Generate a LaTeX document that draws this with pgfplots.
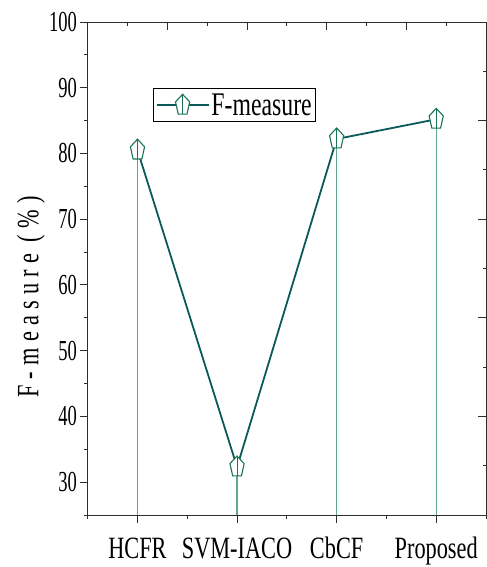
\documentclass[border=0pt]{standalone}
\usepackage{fontspec}
\setmainfont{Liberation Serif}[FakeStretch=0.72]
\newfontfamily\digitfont{Liberation Serif}[FakeStretch=0.64]
\newfontfamily\ylabfont{Liberation Serif}[FakeStretch=0.72,LetterSpace=20]
\usepackage{pgfplots}
\pgfplotsset{compat=1.18}
\definecolor{mainc}{RGB}{10,90,90}
\definecolor{markc}{RGB}{25,115,85}
\definecolor{dropc}{RGB}{95,165,145}
\definecolor{axc}{RGB}{45,45,45}
\pgfdeclareplotmark{pentv}{%
  \pgfpathmoveto{\pgfqpointpolar{90}{\pgfplotmarksize}}%
  \pgfpathlineto{\pgfqpointpolar{162}{\pgfplotmarksize}}%
  \pgfpathlineto{\pgfqpointpolar{234}{\pgfplotmarksize}}%
  \pgfpathlineto{\pgfqpointpolar{306}{\pgfplotmarksize}}%
  \pgfpathlineto{\pgfqpointpolar{18}{\pgfplotmarksize}}%
  \pgfpathclose
  \pgfusepathqfillstroke
  \pgfpathmoveto{\pgfqpoint{0pt}{\pgfplotmarksize}}%
  \pgfpathlineto{\pgfqpoint{0pt}{-0.809\pgfplotmarksize}}%
  \pgfusepathqstroke
}
\begin{document}
\begin{tikzpicture}
\begin{axis}[name=ax, scale only axis, width=398.3bp, height=493bp,
  xmin=0.5, xmax=4.5, ymin=25, ymax=100,
  axis x line*=bottom, axis y line*=left,
  axis line style={axc, line width=0.9bp},
  every tick/.style={axc, line width=0.9bp},
  xtick={1,2,3,4}, xticklabels={HCFR,SVM-IACO,CbCF,Proposed},
  minor xtick={0.5,1.5,2.5,3.5,4.5},
  ytick={30,40,...,100}, minor ytick={25,35,...,95},
  tick align=outside, major tick length=8bp, minor tick length=4bp,
  /pgf/number format/assume math mode=true,
  y tick label style={font=\digitfont\fontsize{29bp}{32bp}\selectfont, inner sep=0pt, xshift=-2.5bp},
  x tick label style={font=\fontsize{31bp}{36bp}\selectfont, inner sep=0pt, anchor=north, text height=21bp, yshift=-14bp},
  legend style={at={(0.1647,0.8655)}, anchor=north west, draw=black, line width=0.8bp,
    font=\fontsize{33bp}{38bp}\selectfont, inner xsep=2bp, inner ysep=3bp},
  legend image code/.code={\draw[mark repeat=2, mark phase=2, #1] plot coordinates {(0bp,0bp) (26bp,0bp) (52bp,0bp)};},
  clip=true]
\addplot[ycomb, draw=dropc, line width=1.3bp, forget plot] coordinates {(1,80.5) (2,32.3) (3,82.2) (4,85.2)};
\addplot[mainc, line width=1.8bp, mark=pentv, mark size=11,
  mark options={draw=markc, fill=white, line width=1.1bp, xscale=0.68}] coordinates {(1,80.5) (2,32.3) (3,82.2) (4,85.2)};
\addlegendentry{F-measure}
\end{axis}
\begin{axis}[scale only axis, width=398.3bp, height=493bp,
  xmin=0.5, xmax=4.5, ymin=25, ymax=100,
  axis x line*=top, axis y line*=right,
  axis line style={axc, line width=0.9bp},
  every tick/.style={axc, line width=0.9bp},
  xtick={0.5,1.3,2.1,2.9,3.7}, minor xtick={0.9,1.7,2.5,3.3,4.1},
  ytick={40,55,70,85,100}, minor ytick={32.5,47.5,62.5,77.5,92.5},
  xticklabels={}, yticklabels={},
  tick align=inside, major tick length=8bp, minor tick length=3.5bp]
\addplot[draw=none, forget plot] coordinates {(1,50)};
\end{axis}
\node[rotate=90, font=\ylabfont\fontsize{31bp}{36bp}\selectfont, inner sep=0pt] at ([shift={(-56.7bp,218bp)}]ax.south west) {F-measure (\%)};
\pgfresetboundingbox
\path ([shift={(-87.7bp,-52bp)}]ax.south west) rectangle ([shift={(399.3bp,515bp)}]ax.south west);
\end{tikzpicture}
\end{document}
